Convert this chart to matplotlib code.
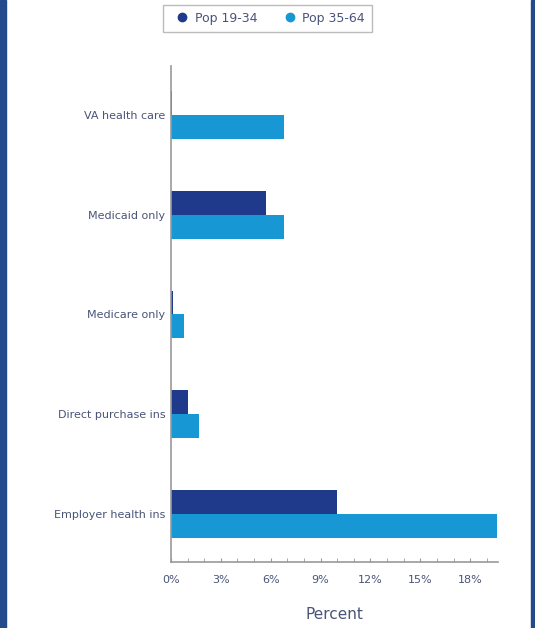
import matplotlib
matplotlib.use('Agg')
import numpy as np
from matplotlib import pyplot as plt
from matplotlib.ticker import MultipleLocator, FuncFormatter
from matplotlib.lines import Line2D
from matplotlib.patches import Rectangle

categories = ['Employer health ins', 'Direct purchase ins', 'Medicare only', 'Medicaid only', 'VA health care']
pop_19_34 = [10.0, 1.0, 0.1, 5.7, 0.05]
pop_35_64 = [19.6, 1.7, 0.8, 6.8, 6.8]
series_names = ['Pop 19-34', 'Pop 35-64']

dark = '#1f3a8a'
light = '#1797d4'
text_col = '#4a5478'

fig = plt.figure(figsize=(5.35, 6.28), dpi=100)
ax = fig.add_axes([0.3196, 0.105, 0.612, 0.79])

y = np.arange(len(categories))
h = 0.24
ax.barh(y + h / 2, pop_19_34, height=h, color=dark)
ax.barh(y - h / 2, pop_35_64, height=h, color=light)

ax.set_xlim(0, 19.7)
ax.set_ylim(-0.48, 4.49)
ax.set_yticks(y)
ax.set_yticklabels(categories, fontsize=8, color=text_col)
ax.tick_params(axis='y', length=0, pad=4)
ax.xaxis.set_major_locator(MultipleLocator(3))
ax.xaxis.set_minor_locator(MultipleLocator(1))
ax.xaxis.set_major_formatter(FuncFormatter(lambda v, p: f'{v:.0f}%'))
ax.tick_params(axis='x', which='both', direction='in', length=3, color='#999999',
               labelsize=8, labelcolor=text_col, pad=9)

for s in ['top', 'right']:
    ax.spines[s].set_visible(False)
for s in ['left', 'bottom']:
    ax.spines[s].set_color('#999999')
    ax.spines[s].set_linewidth(1.2)

ax.set_xlabel('Percent', fontsize=11, color=text_col, labelpad=16)

handles = [Line2D([], [], marker='o', linestyle='', color=dark, markersize=6),
           Line2D([], [], marker='o', linestyle='', color=light, markersize=6)]
leg = fig.legend(handles, series_names, loc='center', bbox_to_anchor=(0.5, 0.971), ncol=2,
                 fontsize=9, frameon=True, fancybox=False, handletextpad=0.0,
                 handlelength=2.0, columnspacing=1.6, borderpad=0.55, borderaxespad=0)
leg.get_frame().set_edgecolor('#aaaaaa')
for t in leg.get_texts():
    t.set_color(text_col)

# blue frame edges of the picture
fig.patches.append(Rectangle((0, 0), 0.012, 1, transform=fig.transFigure, color='#244a8c'))
fig.patches.append(Rectangle((0.992, 0), 0.008, 1, transform=fig.transFigure, color='#244a8c'))

fig.savefig('out.png', dpi=100)
